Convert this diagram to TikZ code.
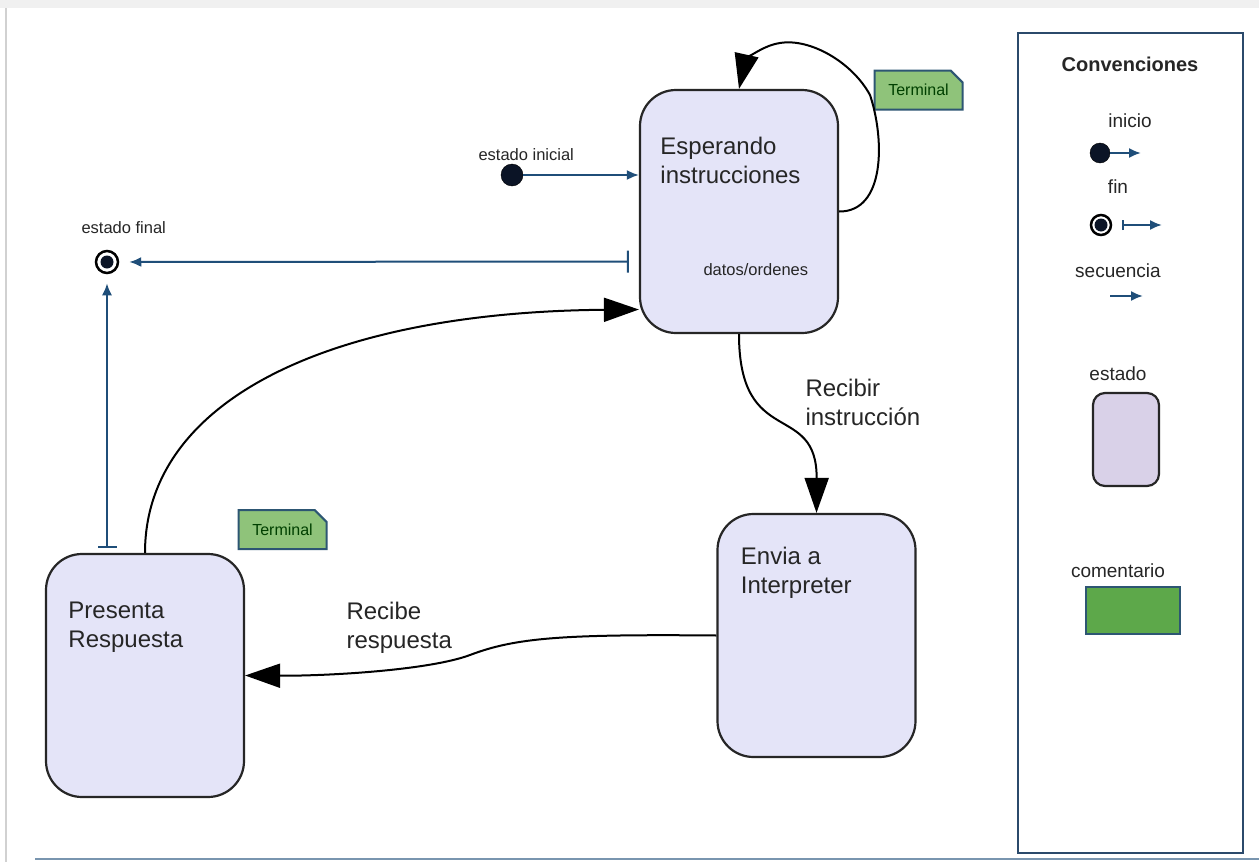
\documentclass[tikz,border=0pt]{standalone}
\usepackage{fontspec}
\setmainfont{Liberation Sans}
\usetikzlibrary{arrows.meta,shapes.misc}
\definecolor{lila}{HTML}{E4E4F8}
\definecolor{lilaleyenda}{HTML}{D9D1E8}
\definecolor{verdenota}{HTML}{8FC37A}
\definecolor{verdeleyenda}{HTML}{5DA84A}
\definecolor{azul}{HTML}{1F4E79}
\definecolor{bordenota}{HTML}{2D5673}
\definecolor{marco}{HTML}{2B4A6B}
\definecolor{oscuro}{HTML}{0B1426}
\tikzset{
  estado/.style={draw=black!85, line width=2.2pt, fill=lila, rounded corners=36pt,
    minimum width=198pt, minimum height=243pt, inner sep=0pt},
  nota/.style={chamfered rectangle, chamfered rectangle corners=north east,
    chamfered rectangle xsep=6pt, chamfered rectangle ysep=6pt, draw=bordenota,
    line width=2pt, fill=verdenota, minimum width=88pt, minimum height=39pt,
    inner sep=0pt, font=\fontsize{16}{19}\selectfont, text=black!75!green},
  grande/.style={font=\fontsize{24}{29}\selectfont, text=black!85, align=left, anchor=base west},
  chica/.style={font=\fontsize{16.5}{19}\selectfont, text=black!85, anchor=base west},
  leyenda/.style={font=\fontsize{19}{22}\selectfont, text=black!85, anchor=base},
  trans/.style={line width=2pt, -{Triangle[length=35pt, width=24pt]}},
  secuencia/.style={azul, line width=2pt, -{Latex[length=12pt, width=10pt]}},
  inicial/.style={circle, fill=oscuro, draw=black, minimum size=22pt, inner sep=0pt},
  final/.style={circle, draw=black, line width=2.5pt, fill=white, minimum size=22pt,
    inner sep=0pt, path picture={\fill[oscuro] (path picture bounding box.center) circle (6.5pt);}},
}

\begin{document}
\begin{tikzpicture}[x=1pt, y=-1pt]
\useasboundingbox (0,0) rectangle (1259,862);
% fondo
\fill[white] (0,0) rectangle (1259,862);
\fill[black!6] (0,0) rectangle (1259,8);
\draw[black!18, line width=1.5pt] (6,8) -- (6,862);
\draw[azul!60, line width=2pt] (35,859) -- (1259,859);

% estados
\node[estado] (esp) at (739,211.5) {};
\node[estado] (envia) at (816.5,635.5) {};
\node[estado] (presenta) at (145,675.5) {};
\node[grande] at ([xshift=18pt, yshift=-95pt]esp.north west) {Esperando\\instrucciones};
\node[grande] at ([xshift=21pt, yshift=-81pt]envia.north west) {Envia a\\Interpreter};
\node[grande] at ([xshift=20pt, yshift=-95pt]presenta.north west) {Presenta\\Respuesta};
\node[chica] at (700,275) {datos/ordenes};

% comentarios
\node[nota] (nota1) at (918.5,90) {Terminal};
\node[nota] (nota2) at (282.5,529.5) {Terminal};

% inicio y fin
\node[inicial] (ini) at (512,175) {};
\node[final] (fin) at (107,262) {};
\node[chica] at (475,160) {estado inicial};
\node[chica] at (78,233) {estado final};

\draw[secuencia] (ini) -- (ini -| esp.west);
\draw[secuencia, {Bar[width=22pt]}-{Latex[length=12pt, width=10pt]}, shorten <=10pt, shorten >=10pt]
  ([yshift=-50pt]esp.west) -- (fin);
\draw[secuencia, {Bar[width=19pt]}-{Latex[length=12pt, width=10pt]}, shorten <=5pt, shorten >=9pt]
  ([xshift=-38pt]presenta.north) -- (fin);

% transiciones
\draw[trans] (esp.east) .. controls (885,212) and (885,140) .. (870,95)
  .. controls (852,62) and (810,38) .. (780,43)
  .. controls (760,46) and (745,62) .. (esp.north);
\draw[trans] (esp.south) .. controls (739,450) and (817,400) .. (envia.north);
\draw[trans] (envia.west) .. controls (560,634) and (515,638) .. (470,655)
  .. controls (430,670) and (330,676) .. (presenta.east);
\draw[trans] (presenta.north) .. controls (145,400) and (330,312) .. ([yshift=-98pt]esp.west);
\node[grande] at (802,425) {Recibir\\instrucción};
\node[grande] at (343,648) {Recibe\\respuesta};

% convenciones
\node[draw=marco, line width=2pt, minimum width=225pt, minimum height=820pt, inner sep=0pt] (conv) at (1130.5,443) {};
\node[leyenda, font=\fontsize{20}{24}\selectfont\bfseries] at (1130,71) {Convenciones};
\node[leyenda] at (1130,127) {inicio};
\node[inicial, minimum size=20pt] (lini) at (1100,153) {};
\coordinate (linif) at (1141,153);
\draw[secuencia] (lini) -- (linif);
\node[leyenda] at (1118,193) {fin};
\node[final, minimum size=20pt] (lfin) at (1101,225) {};
\coordinate (lfinf) at (1162,225);
\draw[secuencia, {Bar[width=10pt]}-{Latex[length=12pt, width=10pt]}, shorten <=10pt] (lfin) -- (lfinf);
\node[leyenda] at (1118,277) {secuencia};
\coordinate (lseca) at (1110,296);
\coordinate (lsecb) at (1143,296);
\draw[secuencia] (lseca) -- (lsecb);
\node[leyenda] at (1118,380) {estado};
\node[draw=black!85, line width=2.2pt, fill=lilaleyenda, rounded corners=12pt,
  minimum width=66pt, minimum height=93pt] (lest) at (1126,439.5) {};
\node[leyenda] at (1118,577) {comentario};
\node[nota, fill=verdeleyenda, minimum width=94pt, minimum height=47pt,
  chamfered rectangle xsep=8pt, chamfered rectangle ysep=8pt] (lcom) at (1133,610.5) {};
\end{tikzpicture}
\end{document}
